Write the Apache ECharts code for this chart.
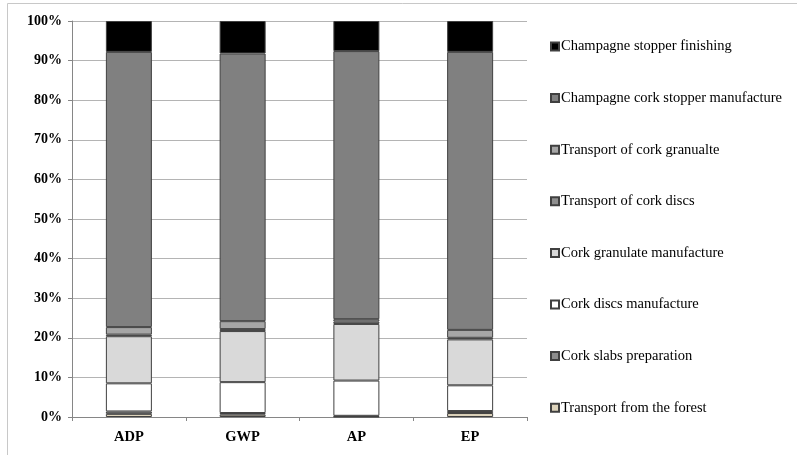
<!DOCTYPE html>
<html>
<head>
<meta charset="utf-8">
<script src="https://cdn.jsdelivr.net/npm/echarts@6/dist/echarts.min.js"></script>
<style>html,body{margin:0;padding:0;background:#fff;}#c{width:797px;height:455px;}</style>
</head>
<body>
<div id="c"></div>
<script>
var categories = ['ADP', 'GWP', 'AP', 'EP'];
var seriesNames = [
  'Transport from the forest',
  'Cork slabs preparation',
  'Cork discs manufacture',
  'Cork granulate manufacture',
  'Transport of cork discs',
  'Transport of cork granualte',
  'Champagne cork stopper manufacture',
  'Champagne stopper finishing'
];
var transportForest = [0.8, 0.6, 0.1, 1.0];
var slabsPreparation = [0.6, 0.4, 0.2, 0.5];
var discsManufacture = [7.1, 7.8, 8.9, 6.5];
var granulateManufacture = [11.9, 12.9, 14.3, 11.6];
var transportDiscs = [0.4, 0.5, 0.6, 0.4];
var transportGranulate = [1.9, 2.0, 0.6, 2.0];
var champagneManufacture = [69.5, 67.6, 67.7, 70.2];
var champagneFinishing = [7.8, 8.2, 7.6, 7.8];
var yTicks = [0, 10, 20, 30, 40, 50, 60, 70, 80, 90, 100];

var seriesData = [transportForest, slabsPreparation, discsManufacture, granulateManufacture,
  transportDiscs, transportGranulate, champagneManufacture, champagneFinishing];
var colors = ['#ddd3bb', '#8c8c8c', '#ffffff', '#d9d9d9', '#8f8f8f', '#a6a6a6', '#808080', '#000000'];

var serif = '"Liberation Serif", "DejaVu Serif", serif';
var chart = echarts.init(document.getElementById('c'), null, {renderer: 'canvas'});
var series = seriesNames.map(function (n, i) {
  return {
    name: n, type: 'bar', stack: 'total', data: seriesData[i],
    barWidth: 46,
    itemStyle: {color: colors[i], borderColor: '#404040', borderWidth: 1},
    emphasis: {disabled: true}
  };
});
chart.setOption({
  animation: false,
  backgroundColor: '#ffffff',
  graphic: [{type: 'rect', shape: {x: 7.5, y: 3.5, width: 800, height: 460},
    style: {fill: 'none', stroke: '#c8c8c8', lineWidth: 1}, silent: true, z: -1}],
  grid: {left: 72, right: 270, top: 21, bottom: 38, containLabel: false},
  legend: {
    orient: 'vertical', left: 545, top: 34,
    itemWidth: 8, itemHeight: 8, itemGap: 36.6,
    icon: 'rect',
    data: seriesNames.slice().reverse(),
    textStyle: {fontFamily: serif, fontSize: 14.5, color: '#000', padding: [0, 0, 0, -3]},
    selectedMode: false
  },
  xAxis: {
    type: 'category', data: categories,
    axisLine: {lineStyle: {color: '#868686'}},
    axisTick: {show: true, length: 4, lineStyle: {color: '#868686'}},
    axisLabel: {fontFamily: serif, fontSize: 14.5, fontWeight: 'bold', color: '#000', margin: 13}
  },
  yAxis: {
    type: 'value', min: yTicks[0], max: yTicks[yTicks.length - 1], interval: 10,
    axisLine: {show: true, lineStyle: {color: '#868686'}},
    axisTick: {show: true, length: 4, lineStyle: {color: '#868686'}},
    splitLine: {lineStyle: {color: '#b4b4b4'}},
    axisLabel: {fontFamily: serif, fontSize: 14, fontWeight: 'bold', color: '#000', margin: 10,
      formatter: '{value}%'}
  },
  series: series
});
</script>
</body>
</html>
